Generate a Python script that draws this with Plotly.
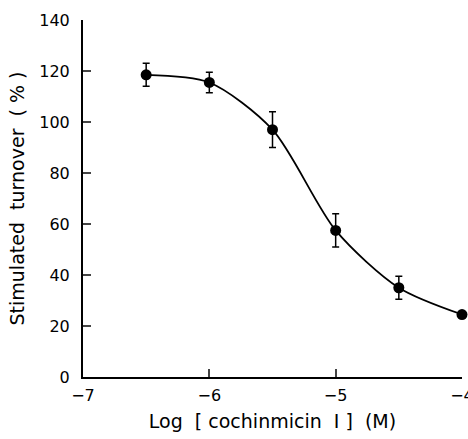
import plotly.graph_objects as go

log_conc = [-6.5, -6.0, -5.5, -5.0, -4.5, -4.0]
turnover = [118.5, 115.5, 97.0, 57.5, 35.0, 24.5]
sem = [4.5, 4.0, 7.0, 6.5, 4.5, 1.0]

x_ticks = [-7, -6, -5, -4]
y_ticks = [0, 20, 40, 60, 80, 100, 120, 140]

FONT = "DejaVu Sans"

fig = go.Figure()
fig.add_trace(go.Scatter(
    x=log_conc, y=turnover,
    mode="lines+markers",
    line=dict(color="black", width=1.8, shape="spline", smoothing=0.8),
    marker=dict(color="black", size=11),
    error_y=dict(type="data", array=sem, color="black", thickness=1.5, width=3.5),
    cliponaxis=False,
    showlegend=False,
))

fig.update_layout(
    width=468, height=439,
    margin=dict(l=83, r=6, t=20, b=62),
    paper_bgcolor="white", plot_bgcolor="white",
    font=dict(family=FONT, size=16, color="black"),
    xaxis=dict(
        range=[-7, -4], tickvals=x_ticks, ticks="inside", ticklen=8, tickwidth=1.5,
        showline=True, linecolor="black", linewidth=2, showgrid=False, zeroline=False,
        automargin=False, ticklabelstandoff=3, ticklabeloverflow="allow",
        title=dict(text="Log  [ cochinmicin  I ]  (M)", font=dict(size=19), standoff=10),
        mirror=False,
    ),
    yaxis=dict(
        range=[0, 140], tickvals=y_ticks, ticks="inside", ticklen=8, tickwidth=1.5,
        showline=True, linecolor="black", linewidth=2, showgrid=False, zeroline=False,
        automargin=False, ticklabelstandoff=8,
        title=dict(text="Stimulated  turnover  ( % )", font=dict(size=19), standoff=10),
    ),
)

fig.write_html("out.html")
